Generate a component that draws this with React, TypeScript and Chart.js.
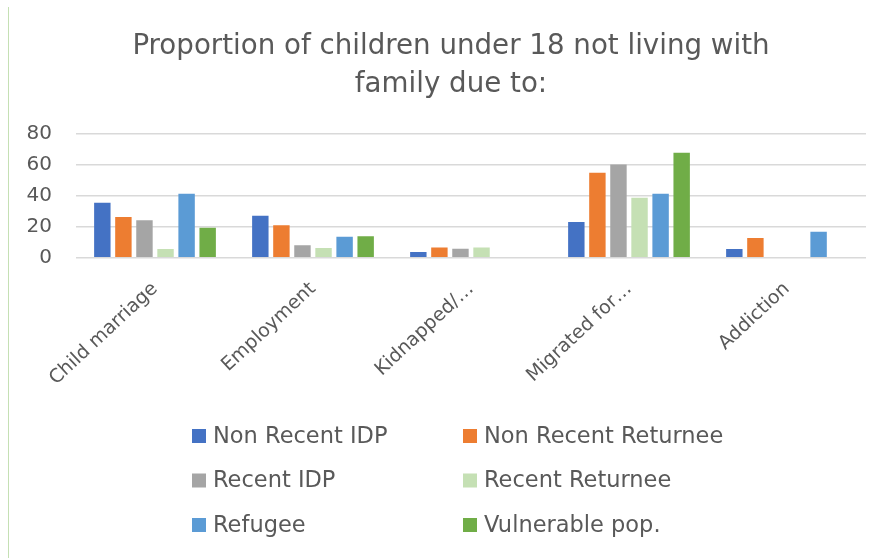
import React, { useEffect, useRef } from "react";
import { Chart, registerables } from "chart.js";

Chart.register(...registerables);

const categories = ["Child marriage", "Employment", "Kidnapped/…", "Migrated for…", "Addiction"];
const seriesNames = [
  "Non Recent IDP",
  "Non Recent Returnee",
  "Recent IDP",
  "Recent Returnee",
  "Refugee",
  "Vulnerable pop.",
];
const nonRecentIDP = [35.5, 27, 3.7, 23.1, 5.6];
const nonRecentReturnee = [26.2, 21, 6.7, 54.7, 12.8];
const recentIDP = [24.2, 8, 5.8, 60.1, null];
const recentReturnee = [5.6, 6.3, 6.7, 38.7, null];
const refugee = [41.3, 13.6, null, 41.3, 16.7];
const vulnerablePop = [19.3, 13.8, null, 67.7, null];
const seriesColors = ["#4472c4", "#ed7d31", "#a5a5a5", "#c5e0b4", "#5b9bd5", "#70ad47"];
const yMax = 80;
const yStep = 20;
const titleLines = ["Proportion of children under 18 not living with", "family due to:"];

const FONT = "'DejaVu Sans', sans-serif";
const TEXT = "#595959";

const gridLegend = {
  id: "gridLegend",
  afterDraw(chart: any) {
    const ctx = chart.ctx;
    const colX = [192, 463];
    const rowY = [436, 480.5, 525];
    ctx.save();
    ctx.font = `22.5px ${FONT}`;
    ctx.textBaseline = "middle";
    ctx.textAlign = "left";
    chart.data.datasets.forEach((ds: any, i: number) => {
      const x = colX[i % 2];
      const y = rowY[Math.floor(i / 2)];
      ctx.fillStyle = ds.backgroundColor;
      ctx.fillRect(x, y - 7, 14, 14);
      ctx.fillStyle = TEXT;
      ctx.fillText(ds.label, x + 21, y + 1);
    });
    ctx.restore();
  },
};

export default function App() {
  const ref = useRef<HTMLCanvasElement | null>(null);
  useEffect(() => {
    if (!ref.current) return;
    const series = [nonRecentIDP, nonRecentReturnee, recentIDP, recentReturnee, refugee, vulnerablePop];
    const chart = new Chart(ref.current, {
      type: "bar",
      data: {
        labels: categories,
        datasets: series.map((d, i) => ({
          label: seriesNames[i],
          data: d,
          backgroundColor: seriesColors[i],
          categoryPercentage: 0.8,
          barPercentage: 0.78,
        })),
      },
      options: {
        animation: false,
        responsive: true,
        maintainAspectRatio: false,
        layout: { padding: { left: 27, right: 9, top: 0, bottom: 156 } },
        plugins: {
          legend: { display: false },
          tooltip: { enabled: false },
          title: {
            display: true,
            text: titleLines,
            color: TEXT,
            font: { family: FONT, size: 27.7, weight: "normal", lineHeight: 1.4 },
            padding: { top: 27, bottom: 29 },
          },
        },
        scales: {
          x: {
            grid: { display: false },
            border: { display: false },
            afterFit(s: any) {
              s.paddingLeft = 0;
              s.paddingRight = 18;
            },
            ticks: {
              color: TEXT,
              font: { family: FONT, size: 19 },
              minRotation: 43,
              maxRotation: 43,
              autoSkip: false,
              padding: 12,
            },
          },
          y: {
            min: 0,
            max: yMax,
            border: { display: false },
            grid: { color: "#d9d9d9", lineWidth: 1.5, drawTicks: false },
            afterFit(s: any) {
              s.width = 49;
            },
            ticks: {
              stepSize: yStep,
              color: TEXT,
              font: { family: FONT, size: 20 },
              padding: 24,
            },
          },
        },
      },
      plugins: [gridLegend],
    });
    return () => chart.destroy();
  }, []);
  return (
    <div style={{ position: "fixed", left: 0, top: 0, width: 884, height: 558, background: "#fff" }}>
      <div style={{ position: "absolute", left: 8, top: 7, bottom: 0, width: 1, background: "#c5e0b4" }} />
      <canvas ref={ref} />
    </div>
  );
}
